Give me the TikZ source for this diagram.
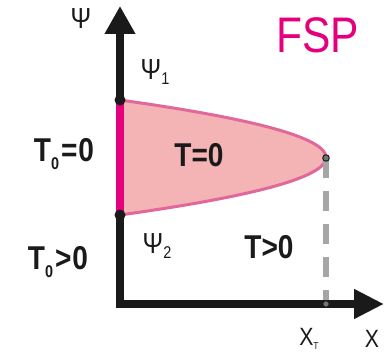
\documentclass[tikz,border=0pt]{standalone}
\usepackage{fontspec}
\setmainfont{Liberation Sans}
\newfontfamily\narrowsans[FakeStretch=0.85]{Liberation Sans}
\usetikzlibrary{arrows.meta}
\definecolor{fsp}{HTML}{E4007C}
\definecolor{fillpink}{HTML}{F4B3B5}
\definecolor{edgepink}{HTML}{E0689A}
\definecolor{dashgray}{HTML}{A6A6A6}
\definecolor{axisblack}{HTML}{1A1A1A}
\begin{document}
\begin{tikzpicture}[x=1pt,y=-1pt,
  bigl/.style={font=\narrowsans\bfseries\fontsize{33}{33}\selectfont, inner sep=0pt, text=axisblack},
  psil/.style={font=\narrowsans\fontsize{29}{29}\selectfont, inner sep=0pt, text=axisblack},
  xl/.style={font=\narrowsans\fontsize{25}{25}\selectfont, inner sep=0pt, text=axisblack},
  axisline/.style={line width=8pt, draw=axisblack, line join=miter},
  bigdot/.style={circle, fill=axisblack, inner sep=0pt, minimum size=11pt},
  smalldot/.style={circle, fill=dashgray!70!black, draw=axisblack, line width=1pt, inner sep=0pt, minimum size=6.5pt}]
\useasboundingbox (0,0) rectangle (389,352);
\coordinate (O) at (120,304);
\coordinate (Ytip) at (120,6);
\coordinate (Xtip) at (384,304);
\coordinate (A) at (120,100);
\coordinate (B) at (120,215);
\coordinate (C) at (326,158);
\coordinate (D) at (326,304);
% region
\fill[fillpink] plot[domain=100:215, samples=80] ({326 - 206*((\x-157.5)/57.5)*((\x-157.5)/57.5)}, {\x}) -- cycle;
\draw[edgepink, line width=3pt] plot[domain=100:215, samples=80] ({326 - 206*((\x-157.5)/57.5)*((\x-157.5)/57.5)}, {\x});
% dashed line
\draw[dashgray, line width=6pt, dash pattern=on 20pt off 13pt] (C) -- (D);
% axes
\draw[axisline, {Triangle[length=28pt,width=29pt]}-{Triangle[length=30pt,width=28pt]}] (Ytip) -- (O) -- (Xtip);
% magenta segment
\draw[fsp, line width=8pt] (A) -- (B);
\node[bigdot] (a) at (A) {};
\node[bigdot] (b) at (B) {};
\node[smalldot] (c) at (C) {};
\node[smalldot] (d) at (D) {};
% labels
\node[psil] (psi) at (81,19) {Ψ};
\node[psil] (psi1) at (155,72) {Ψ\raisebox{-5pt}{\fontsize{17}{17}\selectfont 1}};
\node[psil] (psi2) at (157,246) {Ψ\raisebox{-5pt}{\fontsize{17}{17}\selectfont 2}};
\node[bigl] (t00) at (64,154) {T\raisebox{-8pt}{\fontsize{17}{17}\selectfont 0}\kern2pt=\kern1pt0};
\node[bigl] (t0) at (199,155) {T=0};
\node[bigl] (t0g) at (58,262) {T\raisebox{-8pt}{\fontsize{17}{17}\selectfont 0}\kern2pt>\kern1pt0};
\node[bigl] (tg) at (269,247) {T>0};
\node[font=\narrowsans\fontsize{50}{50}\selectfont, text=fsp, inner sep=0pt] (fsp) at (318,35) {FSP};
\node[xl] (xt) at (309,339) {X\raisebox{-4pt}{\fontsize{10}{10}\selectfont T}};
\node[xl] (x) at (372,339) {X};
\end{tikzpicture}
\end{document}
